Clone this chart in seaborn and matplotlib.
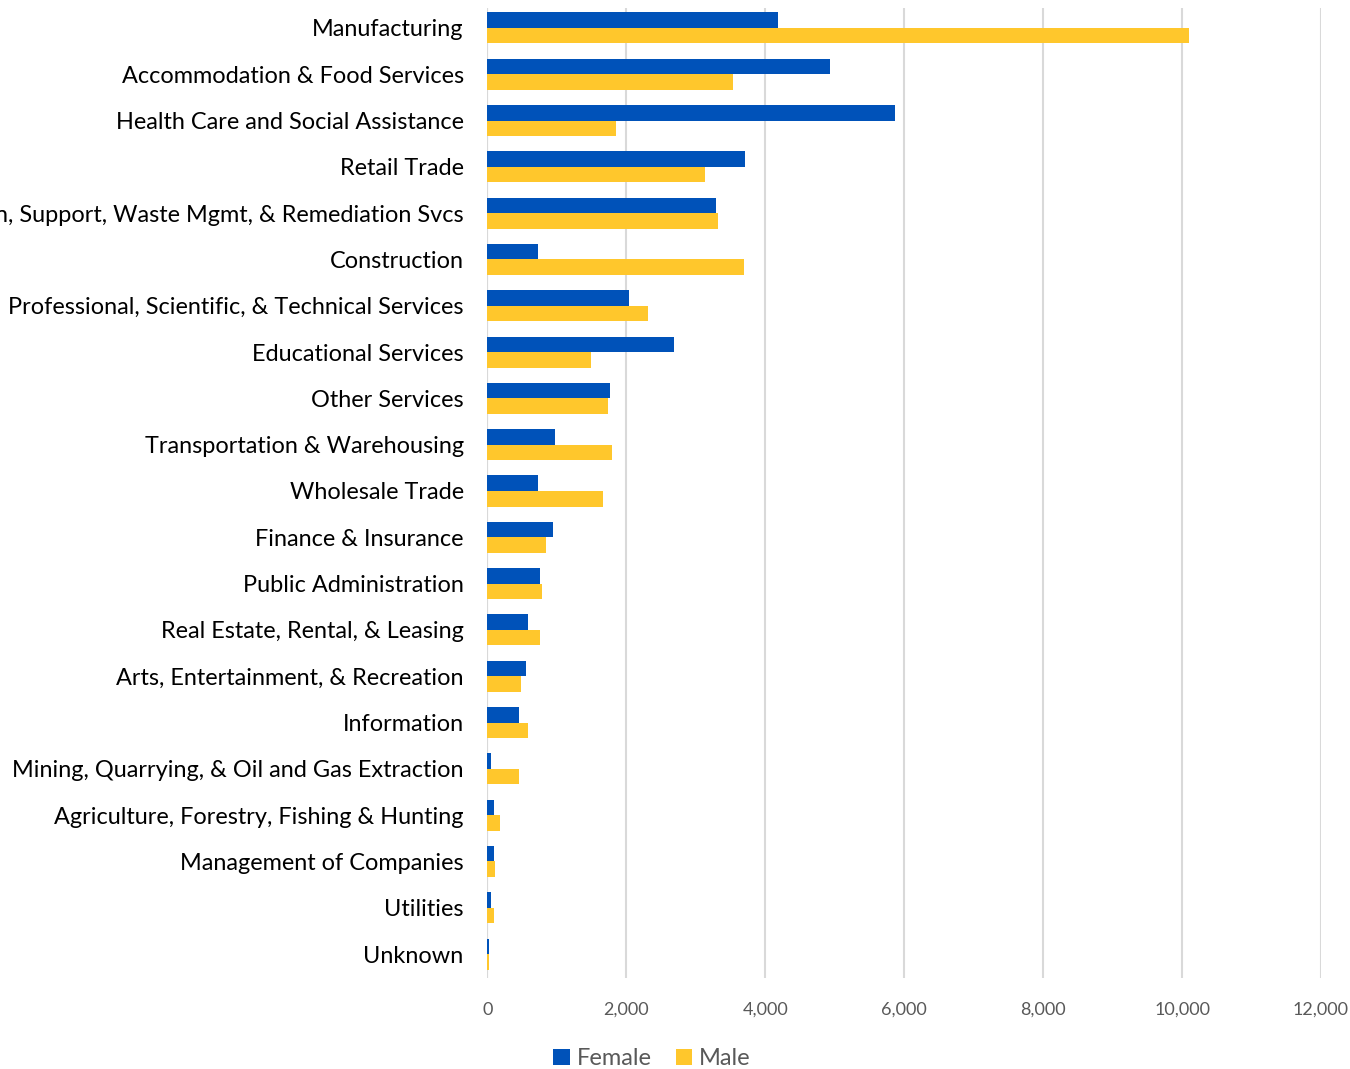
import matplotlib
matplotlib.use("Agg")
import matplotlib.pyplot as plt
from matplotlib.ticker import FuncFormatter
import seaborn as sns
import pandas as pd

# industries, top to bottom
industries = [
    "Manufacturing",
    "Accommodation & Food Services",
    "Health Care and Social Assistance",
    "Retail Trade",
    "Admin, Support, Waste Mgmt, & Remediation Svcs",
    "Construction",
    "Professional, Scientific, & Technical Services",
    "Educational Services",
    "Other Services",
    "Transportation & Warehousing",
    "Wholesale Trade",
    "Finance & Insurance",
    "Public Administration",
    "Real Estate, Rental, & Leasing",
    "Arts, Entertainment, & Recreation",
    "Information",
    "Mining, Quarrying, & Oil and Gas Extraction",
    "Agriculture, Forestry, Fishing & Hunting",
    "Management of Companies",
    "Utilities",
    "Unknown",
]
female = [4190, 4930, 5870, 3710, 3290, 730, 2040, 2680, 1760, 980,
          730, 940, 760, 580, 550, 460, 50, 90, 90, 50, 25]
male = [10100, 3530, 1850, 3130, 3320, 3690, 2310, 1490, 1740, 1800,
        1670, 850, 790, 760, 490, 580, 460, 180, 115, 90, 25]

df = pd.DataFrame({
    "industry": industries * 2,
    "count": female + male,
    "sex": ["Female"] * len(industries) + ["Male"] * len(industries),
})

sns.set_theme(style="white")
plt.rcParams["font.family"] = ["Lato", "DejaVu Sans"]

fig = plt.figure(figsize=(13.5, 10.69), dpi=100)
ax = fig.add_axes([0.361, 0.085, 0.6175, 0.9075])

sns.barplot(data=df, y="industry", x="count", hue="sex", orient="h",
            palette={"Female": "#0052B9", "Male": "#FFC72C"}, saturation=1,
            width=0.67, linewidth=0, ax=ax, legend=True)

ax.set_xlim(0, 12000)
ax.set_ylim(20.52, -0.43)
ax.set_xticks(range(0, 12001, 2000))
ax.xaxis.set_major_formatter(FuncFormatter(lambda v, p: f"{int(v):,}"))
ax.grid(axis="x", color="#D9D9D9", linewidth=1.5)
ax.set_axisbelow(True)
for s in ax.spines.values():
    s.set_visible(False)
ax.axvline(0, color="#D9D9D9", linewidth=1.5, zorder=0)

ax.set_xlabel("")
ax.set_ylabel("")
ax.tick_params(axis="y", length=0, pad=17, labelsize=16.9, labelcolor="#000000")
ax.tick_params(axis="x", length=0, pad=17, labelsize=13, labelcolor="#595959")

ax.get_legend().remove()
handles, labels = ax.get_legend_handles_labels()
fig.legend(handles, labels, loc="lower center", bbox_to_anchor=(0.483, -0.02),
           ncol=2, frameon=False, fontsize=17, handlelength=0.7, handleheight=0.7,
           handletextpad=0.3, columnspacing=1.0, labelcolor="#595959")

plt.savefig("out.png", dpi=100)
plt.close()
